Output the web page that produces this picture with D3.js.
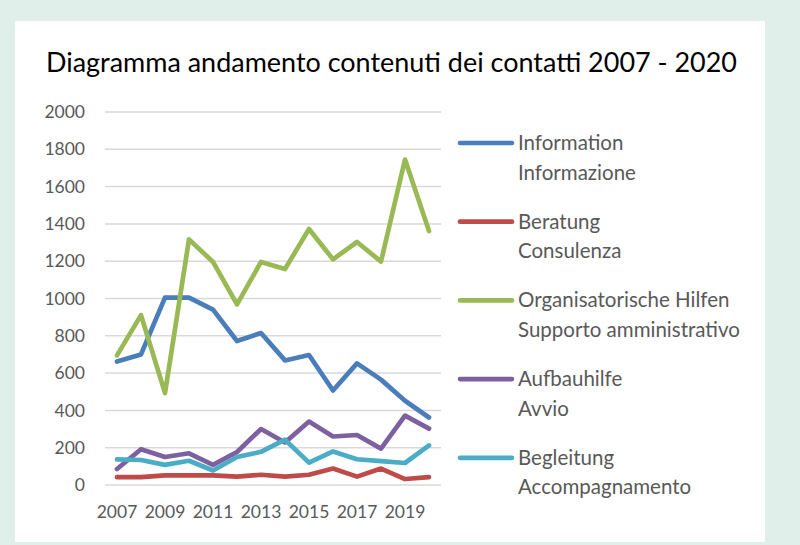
<!DOCTYPE html>
<html><head><meta charset="utf-8">
<script src="https://cdn.jsdelivr.net/npm/d3@7"></script>
<style>body{margin:0;background:#e1efeb;} svg{display:block;}</style>
</head><body>
<svg id="c" width="800" height="545"></svg>
<script>
const years = [2007,2008,2009,2010,2011,2012,2013,2014,2015,2016,2017,2018,2019,2020];
const information = [662,700,1005,1005,940,772,815,668,697,507,652,565,452,362];
const beratung = [42,42,52,52,52,45,55,45,55,88,45,88,32,42];
const organisatorisch = [695,911,493,1317,1196,968,1196,1158,1373,1210,1303,1198,1745,1362];
const aufbauhilfe = [86,192,150,170,108,177,300,228,340,260,268,195,372,302];
const begleitung = [137,134,108,130,78,150,178,243,120,180,138,128,118,212];
const yTicks = [0,200,400,600,800,1000,1200,1400,1600,1800,2000];
const xTickLabels = ["2007","2009","2011","2013","2015","2017","2019"];
const seriesNames = [["Information","Informazione"],["Beratung","Consulenza"],["Organisatorische Hilfen","Supporto amministrativo"],["Aufbauhilfe","Avvio"],["Begleitung","Accompagnamento"]];
const seriesValues = [information, beratung, organisatorisch, aufbauhilfe, begleitung];
const colors = ["#4a7ebb","#be4b48","#98b954","#7d60a0","#4bacc6"];

const svg = d3.select("#c");
const font = "Lato, 'Open Sans', sans-serif";
svg.append("rect").attr("x",0).attr("y",0).attr("width",800).attr("height",545).attr("fill","#e1efeb");
svg.append("rect").attr("x",15).attr("y",21).attr("width",750).attr("height",521).attr("fill","#ffffff");

svg.append("text").attr("x",46).attr("y",72).attr("font-family",font).attr("font-size",27)
  .attr("fill","#000").text("Diagramma andamento contenuti dei contatti 2007 - 2020")
  .attr("textLength",691).attr("lengthAdjust","spacingAndGlyphs");

const x = d3.scaleBand().domain(years).range([105,441]);
const y = d3.scaleLinear().domain([0,2000]).range([485,112]);

const gGrid = svg.append("g");
gGrid.selectAll("line").data(yTicks).join("line")
  .attr("x1",105).attr("x2",441).attr("y1",d=>y(d)).attr("y2",d=>y(d))
  .attr("stroke","#d9d9d9").attr("stroke-width",1.5);

const yAxis = svg.append("g").attr("transform","translate(105,0)")
  .call(d3.axisLeft(y).tickValues(yTicks).tickSize(0).tickPadding(20).tickFormat(d3.format("d")));
yAxis.select(".domain").remove();
yAxis.selectAll("text").attr("font-family",font).attr("font-size",17.5).attr("fill","#595959");

const xAxis = svg.append("g").attr("transform","translate(0,485)")
  .call(d3.axisBottom(x).tickValues(years.filter(d=>xTickLabels.includes(String(d)))).tickSize(0).tickPadding(21));
xAxis.select(".domain").remove();
xAxis.selectAll("text").attr("font-family",font).attr("font-size",17.5).attr("fill","#595959");

const line = d3.line().x((d,i)=>x(years[i])+x.bandwidth()/2).y(d=>y(d));
seriesValues.forEach((vals,k)=>{
  svg.append("path").datum(vals).attr("d",line).attr("fill","none")
    .attr("stroke",colors[k]).attr("stroke-width",4.7).attr("stroke-linejoin","round").attr("stroke-linecap","round");
});

const lg = svg.append("g");
seriesNames.forEach((nm,k)=>{
  const cy = 143 + k*78.7;
  lg.append("line").attr("x1",460).attr("x2",512).attr("y1",cy).attr("y2",cy)
    .attr("stroke",colors[k]).attr("stroke-width",4.7).attr("stroke-linecap","round");
  nm.forEach((t,j)=>{
    lg.append("text").attr("x",518).attr("y",cy+7+j*29.5).attr("font-family",font).attr("font-size",20.5)
      .attr("fill","#595959").text(t);
  });
});
</script>
</body></html>
